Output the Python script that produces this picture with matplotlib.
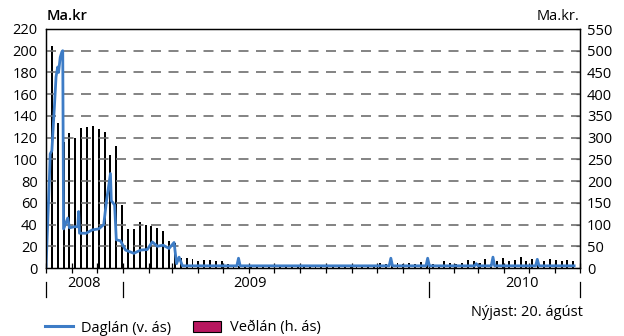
import numpy as np
import pandas as pd
import matplotlib
matplotlib.use("Agg")
import matplotlib.pyplot as plt
import matplotlib.dates as mdates
import matplotlib.transforms as mtransforms
from matplotlib.lines import Line2D
from matplotlib.patches import Patch

plt.rcParams["font.family"] = ["Open Sans", "DejaVu Sans"]
plt.rcParams["font.size"] = 10.5

# --- Daglán (vinstri ás, ma.kr.) ---
line_dates = [
    "2008-10-01", "2008-10-05", "2008-10-06", "2008-10-08", "2008-10-11", "2008-10-13",
    "2008-10-15", "2008-10-16", "2008-10-18", "2008-10-20", "2008-10-21", "2008-10-22",
    "2008-10-27", "2008-10-29", "2008-11-04", "2008-11-08", "2008-11-09", "2008-11-10",
    "2008-11-18", "2008-11-25", "2008-12-03", "2008-12-09", "2008-12-12", "2008-12-17",
    "2008-12-18", "2008-12-22", "2008-12-24", "2008-12-29", "2009-01-04", "2009-01-14",
    "2009-01-22", "2009-01-30", "2009-02-05", "2009-02-11", "2009-02-18", "2009-02-25",
    "2009-03-03", "2009-03-06", "2009-03-09", "2009-03-13", "2009-05-17", "2009-05-19",
    "2009-05-21", "2009-11-15", "2009-11-17", "2009-11-19", "2009-12-29", "2009-12-31",
    "2010-01-02", "2010-02-25", "2010-02-27", "2010-03-01", "2010-03-17", "2010-03-19",
    "2010-03-21", "2010-05-09", "2010-05-11", "2010-05-13", "2010-06-24",
]
line_values = [
    0, 81, 105, 108, 148, 176,
    185, 180, 194, 199, 200, 36,
    46, 37, 38, 38, 52, 32,
    32, 35, 36, 40, 60, 87,
    62, 58, 26, 25, 16.5, 13.5,
    16.5, 17, 24, 20, 21, 18,
    23.5, 4, 10, 2, 2, 9,
    2, 2, 9, 2, 2, 9,
    2, 2, 4, 2, 2, 10,
    2, 2, 8, 2, 2,
]

# --- Veðlán (hægri ás, ma.kr.), vikulega frá 1. okt. 2008 ---
bar_start = "2008-10-01"
bar_values = [
    520, 510, 333, 290, 310, 300, 322, 325, 326, 321, 312, 260, 281,
    145, 90, 90, 107, 99, 96, 92, 84, 62, 57, 22,
    22, 20, 15, 18, 18, 17, 15,
    10, 8, 5, 5, 4, 3, 3, 3, 3, 3, 3, 2, 3,
    3, 2, 3, 3, 3, 3, 4, 3, 4, 3, 3, 4, 3,
    12, 10, 8, 12, 10, 12, 10, 14,
    12, 10, 8, 15, 12, 10, 12, 18, 15,
    12, 20, 10, 15, 22, 15, 18, 25,
    15, 20, 18, 15, 20, 18, 15, 18, 15,
]

left_ticks = list(range(0, 221, 20))
right_ticks = list(range(0, 551, 50))
year_edges = ["2008-10-01", "2009-01-01", "2010-01-01", "2010-07-01"]
year_labels = ["2008", "2009", "2010"]
year_label_dates = ["2008-11-15", "2009-06-02", "2010-04-23"]

line_x = pd.to_datetime(line_dates)
bar_x = pd.date_range(bar_start, periods=len(bar_values), freq="7D")

fig = plt.figure(figsize=(6.24, 3.36), dpi=100)
ax = fig.add_axes([46 / 624, 1 - 268 / 336, (580 - 46) / 624, (268 - 29) / 336])
ax2 = ax.twinx()

ax2.bar(bar_x, bar_values, width=2.3, color="black", linewidth=0)
ax.plot(line_x, line_values, color="#3d7cc6", lw=2.0, solid_joinstyle="round")

ax.set_zorder(ax2.get_zorder() + 1)
ax.patch.set_visible(False)

x0, x1 = pd.Timestamp("2008-10-01"), pd.Timestamp("2010-07-01")
ax.set_xlim(x0, x1)
ax.set_ylim(0, 220)
ax2.set_ylim(0, 550)
ax.set_yticks(left_ticks)
ax2.set_yticks(right_ticks)
ax.tick_params(axis="y", length=0, pad=6)
ax2.tick_params(axis="y", direction="in", length=3, pad=5)

for v in left_ticks[1:-1]:
    ax.axhline(v, color="#6e6e6e", lw=1.2, ls=(0, (6, 4.5)), zorder=0)

ax.xaxis.set_major_locator(mdates.MonthLocator())
ax.xaxis.set_major_formatter(plt.NullFormatter())
ax.tick_params(axis="x", direction="inout", length=7, width=0.9)

for sp in list(ax.spines.values()) + list(ax2.spines.values()):
    sp.set_linewidth(0.9)

trans = mtransforms.blended_transform_factory(ax.transData, ax.transAxes)
for d in year_edges:
    ax.plot([pd.Timestamp(d)] * 2, [-0.058, -0.12], color="black", lw=0.9,
            transform=trans, clip_on=False)
for lab, d in zip(year_labels, year_label_dates):
    ax.text(pd.Timestamp(d), -0.065, lab, transform=trans, ha="center", va="center")

fig.text(47 / 624, 1 - 16 / 336, "Ma.kr", ha="left", va="center", fontweight="semibold")
fig.text(579 / 624, 1 - 16 / 336, "Ma.kr.", ha="right", va="center")
fig.text(583 / 624, 1 - 312 / 336, "Nýjast: 20. ágúst", ha="right", va="center")

handles = [Line2D([], [], color="#3d7cc6", lw=2.2),
           Patch(facecolor="#b8175f", edgecolor="black", linewidth=0.8)]
fig.legend(handles, ["Daglán (v. ás)", "Veðlán (h. ás)"], loc="center left",
           bbox_to_anchor=(45 / 624, 1 - 328 / 336), ncol=2, frameon=False,
           handlelength=1.9, columnspacing=1.5, borderpad=0, handletextpad=0.6,
           borderaxespad=0)

fig.savefig("out.png", dpi=100)
